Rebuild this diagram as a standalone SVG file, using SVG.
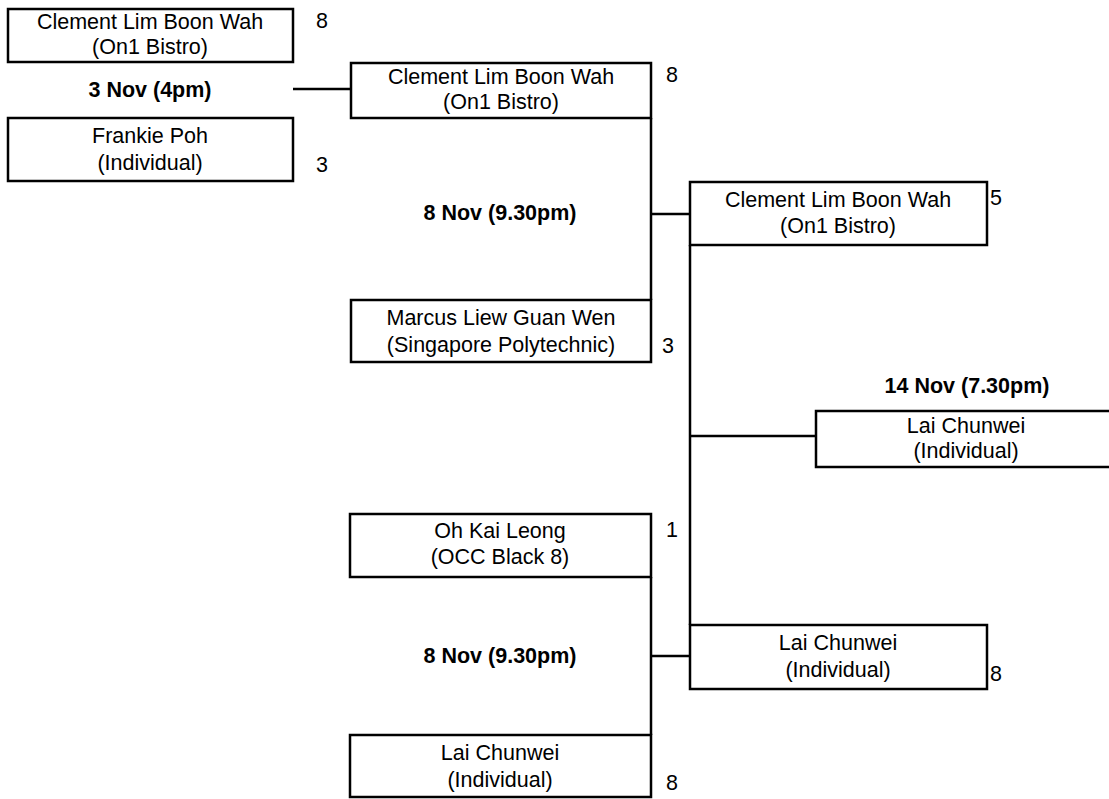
<svg xmlns="http://www.w3.org/2000/svg" width="1109" height="799" viewBox="0 0 1109 799">
  <style>
    .box { fill: #ffffff; stroke: #000000; stroke-width: 2.5; }
    .wire { fill: none; stroke: #000000; stroke-width: 2.5; }
    text { font-family: "Liberation Sans", Arial, sans-serif; font-size: 21.5px; fill: #000000; }
    .name { text-anchor: middle; }
    .date { text-anchor: middle; font-weight: bold; }
  </style>
  <rect width="1109" height="799" fill="#ffffff"/>

  <!-- bracket connectors -->
  <g id="connectors">
    <line class="wire" x1="293" y1="89" x2="351" y2="89"/>
    <line class="wire" x1="651" y1="118" x2="651" y2="300"/>
    <line class="wire" x1="651" y1="214" x2="690" y2="214"/>
    <line class="wire" x1="690" y1="245" x2="690" y2="625"/>
    <line class="wire" x1="690" y1="436" x2="816" y2="436"/>
    <line class="wire" x1="651" y1="577" x2="651" y2="735"/>
    <line class="wire" x1="651" y1="656" x2="690" y2="656"/>
  </g>

  <!-- round 1 -->
  <g id="r1-clement">
    <rect class="box" x="8" y="9" width="285" height="53"/>
    <text class="name" x="150" y="29">Clement Lim Boon Wah</text>
    <text class="name" x="150" y="54">(On1 Bistro)</text>
    <text x="316" y="28">8</text>
  </g>
  <text class="date" x="150" y="97">3 Nov (4pm)</text>
  <g id="r1-frankie">
    <rect class="box" x="8" y="118" width="285" height="63"/>
    <text class="name" x="150" y="143">Frankie Poh</text>
    <text class="name" x="150" y="170">(Individual)</text>
    <text x="316" y="172">3</text>
  </g>

  <!-- quarter-final, upper -->
  <g id="qf-clement">
    <rect class="box" x="351" y="63" width="300" height="55"/>
    <text class="name" x="501" y="84">Clement Lim Boon Wah</text>
    <text class="name" x="501" y="109">(On1 Bistro)</text>
    <text x="666" y="82">8</text>
  </g>
  <text class="date" x="500" y="220">8 Nov (9.30pm)</text>
  <g id="qf-marcus">
    <rect class="box" x="351" y="300" width="300" height="62"/>
    <text class="name" x="501" y="325">Marcus Liew Guan Wen</text>
    <text class="name" x="501" y="352">(Singapore Polytechnic)</text>
    <text x="662" y="353">3</text>
  </g>

  <!-- quarter-final, lower -->
  <g id="qf-oh">
    <rect class="box" x="350" y="514" width="301" height="63"/>
    <text class="name" x="500" y="538">Oh Kai Leong</text>
    <text class="name" x="500" y="564">(OCC Black 8)</text>
    <text x="666" y="537">1</text>
  </g>
  <text class="date" x="500" y="663">8 Nov (9.30pm)</text>
  <g id="qf-lai">
    <rect class="box" x="350" y="735" width="301" height="62"/>
    <text class="name" x="500" y="760">Lai Chunwei</text>
    <text class="name" x="500" y="787">(Individual)</text>
    <text x="666" y="790">8</text>
  </g>

  <!-- semi-final -->
  <g id="sf-clement">
    <rect class="box" x="690" y="182" width="297" height="63"/>
    <text class="name" x="838" y="207">Clement Lim Boon Wah</text>
    <text class="name" x="838" y="233">(On1 Bistro)</text>
    <text x="990" y="205">5</text>
  </g>
  <g id="sf-lai">
    <rect class="box" x="690" y="625" width="297" height="64"/>
    <text class="name" x="838" y="650">Lai Chunwei</text>
    <text class="name" x="838" y="677">(Individual)</text>
    <text x="990" y="681">8</text>
  </g>

  <!-- final -->
  <text class="date" x="967" y="393">14 Nov (7.30pm)</text>
  <g id="final-lai">
    <rect class="box" x="816" y="411" width="300" height="56"/>
    <text class="name" x="966" y="433">Lai Chunwei</text>
    <text class="name" x="966" y="458">(Individual)</text>
  </g>
</svg>
